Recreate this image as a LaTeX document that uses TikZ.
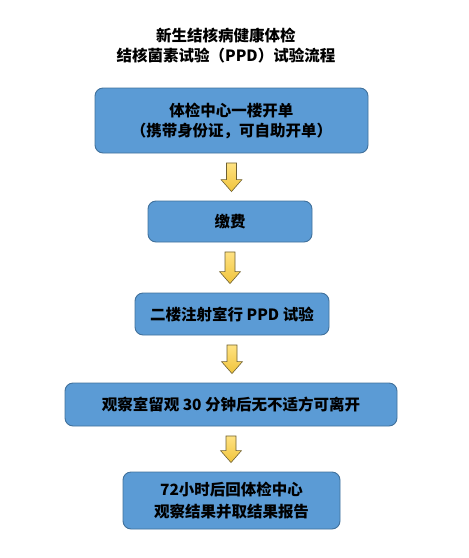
\documentclass[tikz,border=0pt]{standalone}
\usepackage{fontspec}
\newfontfamily\cjk{Noto Sans CJK SC}
\usetikzlibrary{calc}
\definecolor{boxblue}{RGB}{91,155,213}
\definecolor{boxline}{RGB}{65,113,156}
\definecolor{arrowtop}{RGB}{255,226,130}
\definecolor{arrowbot}{RGB}{240,196,60}
\definecolor{arrowline}{RGB}{110,96,50}
\tikzset{
  stepbox/.style={draw=boxline, line width=0.9pt, fill=boxblue, rounded corners=8pt,
    align=center, inner sep=0pt, font=\cjk\bfseries\fontsize{15.5}{20}\selectfont},
  downarrow/.style={draw=arrowline, line width=0.6pt, top color=arrowtop, bottom color=arrowbot}
}
\begin{document}
\begin{tikzpicture}[x=1pt, y=-1pt]
  \useasboundingbox (0,0) rectangle (469,558);
  \node[align=center, font=\cjk\bfseries\fontsize{15.5}{20.5}\selectfont] (title) at (226,45.5)
    {新生结核病健康体检\\结核菌素试验（PPD）试验流程};

  \foreach \nm/\xc/\yc/\bw/\bh/\txt in {
    b1/231.5/120.5/273/65/{体检中心一楼开单\\（携带身份证，可自助开单）},
    b2/230/221.5/164/41/{缴费},
    b3/232/314/194/42/{二楼注射室行 PPD 试验},
    b4/231/404.5/332/43/{观察室留观 30 分钟后无不适方可离开},
    b5/231.5/500.5/217/57/{72小时后回体检中心\\[1.5pt]观察结果并取结果报告}} {
    \node[stepbox, minimum width=\bw, minimum height=\bh] (\nm) at (\xc,\yc) {\txt};
  }

  \foreach \a/\b in {b1/b2, b2/b3, b3/b4, b4/b5} {
    \draw[downarrow] ($(\a.south)+(-5,9.5)$) -- ($(\a.south)+(5,9.5)$)
      -- ($(\a.south|-\b.north)+(5,-21)$) -- ($(\a.south|-\b.north)+(10.5,-21)$)
      -- ($(\a.south|-\b.north)+(0,-9)$) -- ($(\a.south|-\b.north)+(-10.5,-21)$)
      -- ($(\a.south|-\b.north)+(-5,-21)$) -- cycle;
  }
\end{tikzpicture}
\end{document}
